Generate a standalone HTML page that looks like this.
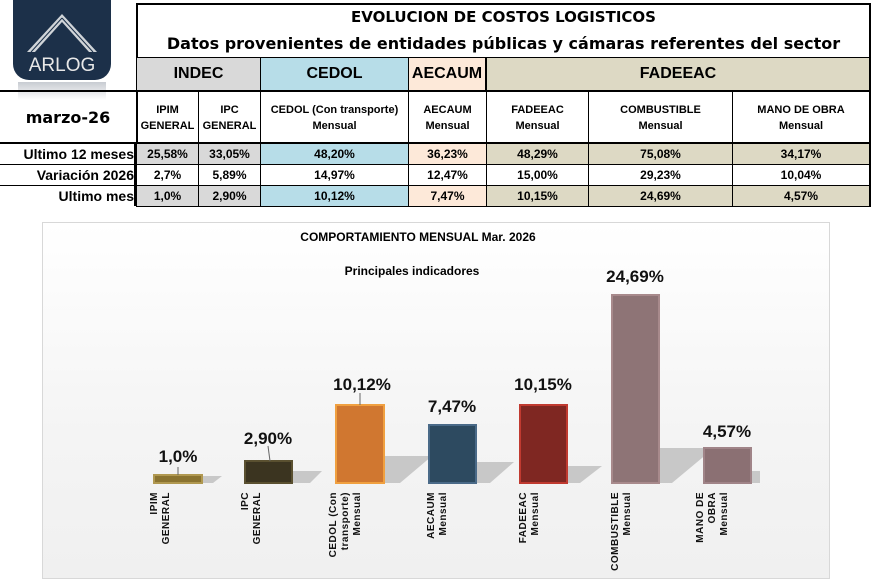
<!DOCTYPE html>
<html><head><meta charset="utf-8"><style>
body{margin:0;width:875px;height:581px;background:#fff;position:relative;overflow:hidden;font-family:"Liberation Sans",Arial,sans-serif}
.a{position:absolute;box-sizing:border-box}
.c{display:flex;align-items:center;justify-content:center;text-align:center;font-weight:bold}
.dj{font-family:"DejaVu Sans",sans-serif;font-weight:900}
</style></head><body>
<!-- logo -->
<div class="a" style="left:13px;top:0;width:98px;height:80px;background:#1c3049;border-radius:0 0 16px 16px"></div>
<svg class="a" style="left:13px;top:0" width="98" height="80">
<polygon points="49,14 84,52 76,52 49,22 22,52 14,52" fill="#d0d4d8"/>
<polyline points="49,18 80,52" stroke="#1c3049" stroke-width="1" fill="none"/>
<polyline points="49,18 18,52" stroke="#1c3049" stroke-width="1" fill="none"/>
<text x="49" y="71" text-anchor="middle" fill="#e8e8e8" font-size="19" font-family="Liberation Sans">ARLOG</text></svg>
<div class="a" style="left:18px;top:82px;width:88px;height:18px;background:linear-gradient(#c8ccd2,#fff)"></div>
<!-- table -->
<div class="a" style="left:136px;top:3px;width:735px;height:204px;border:2px solid #000"></div>
<div class="a c dj" style="left:136px;top:8px;width:735px;font-size:15px">EVOLUCION DE COSTOS LOGISTICOS</div>
<div class="a c dj" style="left:136px;top:34px;width:735px;font-size:16px">Datos provenientes de entidades públicas y cámaras referentes del sector</div>
<div class="a" style="left:136px;top:57px;width:735px;border-top:1px solid #000"></div>
<div class="a c" style="left:137px;top:58px;width:124px;height:32px;background:#d9d9d9;font-size:16px;border-right:1px solid #000">INDEC</div>
<div class="a c" style="left:261px;top:58px;width:148px;height:32px;background:#b7dde8;font-size:16px;border-right:1px solid #000">CEDOL</div>
<div class="a c" style="left:409px;top:58px;width:78px;height:32px;background:#fde9d9;font-size:16px;border-right:2px solid #000">AECAUM</div>
<div class="a c" style="left:487px;top:58px;width:382px;height:32px;background:#ddd9c4;font-size:16px">FADEEAC</div>
<div class="a" style="left:0;top:90px;width:871px;border-top:2px solid #000"></div>
<div class="a c dj" style="left:0;top:92px;width:136px;height:51px;font-size:16px">marzo-26</div>
<div class="a c" style="left:137px;top:92px;width:62px;height:51px;font-size:11px;border-right:1px solid #000;line-height:16px">IPIM<br>GENERAL</div>
<div class="a c" style="left:199px;top:92px;width:62px;height:51px;font-size:11px;border-right:1px solid #000;line-height:16px">IPC<br>GENERAL</div>
<div class="a c" style="left:261px;top:92px;width:148px;height:51px;font-size:11px;border-right:1px solid #000;line-height:16px">CEDOL (Con transporte)<br>Mensual</div>
<div class="a c" style="left:409px;top:92px;width:78px;height:51px;font-size:11px;border-right:1px solid #000;line-height:16px">AECAUM<br>Mensual</div>
<div class="a c" style="left:487px;top:92px;width:102px;height:51px;font-size:11px;border-right:1px solid #000;line-height:16px">FADEEAC<br>Mensual</div>
<div class="a c" style="left:589px;top:92px;width:144px;height:51px;font-size:11px;border-right:1px solid #000;line-height:16px">COMBUSTIBLE<br>Mensual</div>
<div class="a c" style="left:733px;top:92px;width:136px;height:51px;font-size:11px;line-height:16px">MANO DE OBRA<br>Mensual</div>
<div class="a" style="left:0;top:142px;width:871px;border-top:2px solid #000"></div>
<div id="rows"></div>
<script>
var rows=[["Ultimo 12 meses",["25,58%","33,05%","48,20%","36,23%","48,29%","75,08%","34,17%"],144],
["Variación 2026",["2,7%","5,89%","14,97%","12,47%","15,00%","29,23%","10,04%"],165],
["Ultimo mes",["1,0%","2,90%","10,12%","7,47%","10,15%","24,69%","4,57%"],186]];
var xs=[137,199,261,409,487,589,733,869];
var bgR=[["#d9d9d9","#d9d9d9","#b7dde8","#fde9d9","#ddd9c4","#ddd9c4","#ddd9c4"],["#fff","#fff","#fff","#fff","#fff","#fff","#fff"],["#d9d9d9","#d9d9d9","#b7dde8","#fde9d9","#ddd9c4","#ddd9c4","#ddd9c4"]];
var h="";
rows.forEach(function(r,i){
h+='<div class="a" style="left:0;top:'+r[2]+'px;width:134px;height:20px;font-size:14px;font-weight:bold;text-align:right;line-height:20px">'+r[0]+'</div>';
h+='<div class="a" style="left:134px;top:'+r[2]+'px;height:20px;border-left:2px solid #000"></div>';
for(var j=0;j<7;j++){h+='<div class="a c" style="left:'+xs[j]+'px;top:'+r[2]+'px;width:'+(xs[j+1]-xs[j])+'px;height:20px;font-size:12px;background:'+bgR[i][j]+';border-right:'+(j<6?'1px solid #000':'0')+'">'+r[1][j]+'</div>';}
if(i<2)h+='<div class="a" style="left:0;top:'+(r[2]+20)+'px;width:871px;border-top:1px solid #000"></div>';
});
document.getElementById('rows').innerHTML=h;
</script>
<!-- chart -->
<div class="a" style="left:42px;top:222px;width:788px;height:357px;border:1px solid #d8d8d8;background:linear-gradient(#fff,#f4f4f4 60%,#f0f0f0)"></div>
<div class="a c" style="left:42px;top:230px;width:752px;font-size:12px">COMPORTAMIENTO MENSUAL Mar. 2026</div>
<div class="a c" style="left:42px;top:264px;width:740px;font-size:12px">Principales indicadores</div>
<svg class="a" style="left:0;top:0" width="875" height="581">
<g fill="#c8c8c8">
<polygon points="203,483 213,483 222,476 203,476"/>
<polygon points="292,483 310,483 322,471 292,471"/>
<polygon points="385,483 400,483 432,456 385,456"/>
<polygon points="476,483 490,483 514,462 476,462"/>
<polygon points="567,483 580,483 602,466 567,466"/>
<polygon points="659,483 672,483 714,448 659,448"/>
<polygon points="750,483 760,483 760,471 750,471"/>
</g>
<g stroke-width="2">
<rect x="154" y="475" width="48" height="8" fill="#8a7330" stroke="#b09850"/>
<rect x="245" y="461" width="47" height="22" fill="#3b3420" stroke="#5a5030"/>
<rect x="336" y="405" width="48" height="78" fill="#d07730" stroke="#f0a040"/>
<rect x="429" y="425" width="47" height="58" fill="#2d4a60" stroke="#4a6a88"/>
<rect x="520" y="405" width="47" height="78" fill="#7f2722" stroke="#c03a30"/>
<rect x="612" y="295" width="47" height="188" fill="#8e7476" stroke="#a88a8c"/>
<rect x="704" y="448" width="47" height="35" fill="#8b7073" stroke="#a08488"/>
</g>
<g stroke="#666" stroke-width="1"><line x1="178" y1="467" x2="178" y2="475"/><line x1="268" y1="446" x2="270" y2="461"/><line x1="360" y1="393" x2="360" y2="405"/></g>
<g font-family="Liberation Sans Narrow,Liberation Sans,sans-serif" font-weight="bold" font-size="17" text-anchor="middle" fill="#111">
<text x="178" y="462">1,0%</text><text x="268" y="444">2,90%</text><text x="362" y="390">10,12%</text>
<text x="452" y="412">7,47%</text><text x="543" y="390">10,15%</text><text x="635" y="282">24,69%</text><text x="727" y="437">4,57%</text></g>
<g font-family="Liberation Sans,sans-serif" font-weight="bold" font-size="10" text-anchor="end" fill="#111" letter-spacing="0.5">
<text transform="translate(157,492) rotate(-90)"><tspan x="0" dy="0">IPIM</tspan><tspan x="0" dy="12">GENERAL</tspan></text>
<text transform="translate(248,492) rotate(-90)"><tspan x="0">IPC</tspan><tspan x="0" dy="12">GENERAL</tspan></text>
<text transform="translate(336,492) rotate(-90)"><tspan x="0">CEDOL (Con</tspan><tspan x="0" dy="12">transporte)</tspan><tspan x="0" dy="12">Mensual</tspan></text>
<text transform="translate(434,492) rotate(-90)"><tspan x="0">AECAUM</tspan><tspan x="0" dy="12">Mensual</tspan></text>
<text transform="translate(526,492) rotate(-90)"><tspan x="0">FADEEAC</tspan><tspan x="0" dy="12">Mensual</tspan></text>
<text transform="translate(618,492) rotate(-90)"><tspan x="0">COMBUSTIBLE</tspan><tspan x="0" dy="12">Mensual</tspan></text>
<text transform="translate(703,492) rotate(-90)"><tspan x="0">MANO DE</tspan><tspan x="0" dy="12">OBRA</tspan><tspan x="0" dy="12">Mensual</tspan></text>
</g>
</svg>
</body></html>
